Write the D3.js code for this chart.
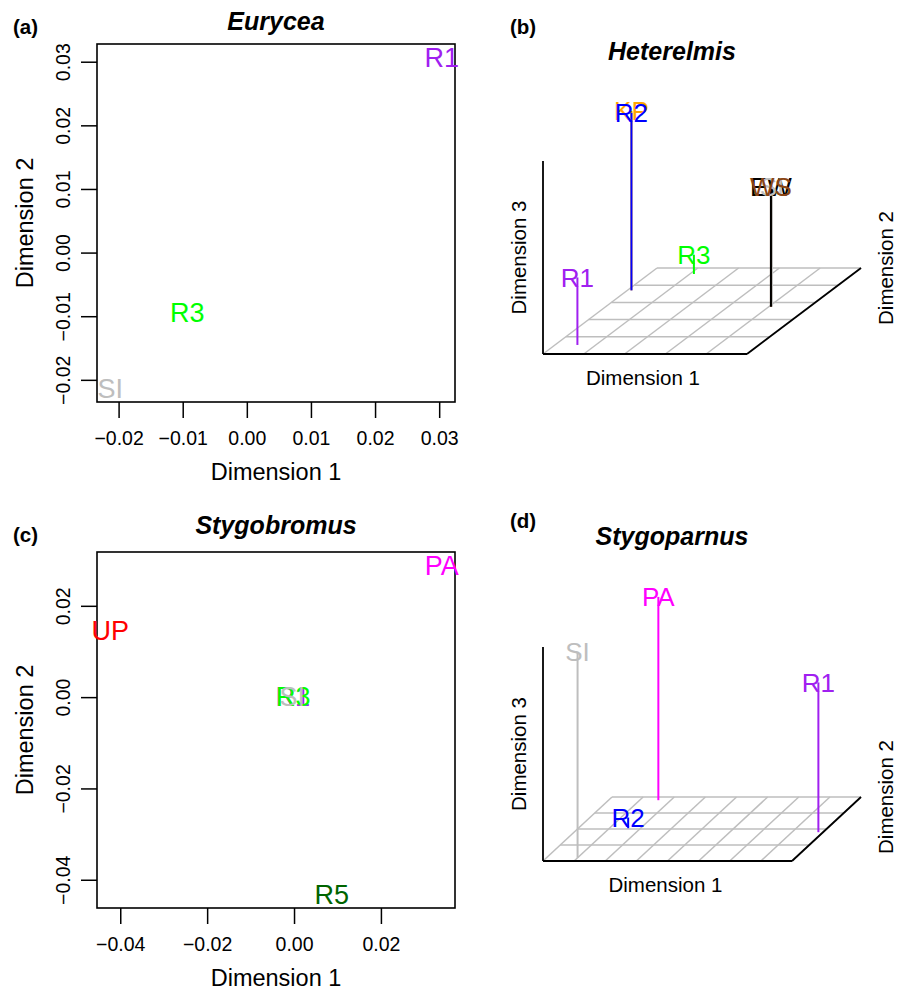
<!DOCTYPE html>
<html>
<head>
<meta charset="utf-8">
<script src="https://cdnjs.cloudflare.com/ajax/libs/d3/7.8.5/d3.min.js"></script>
<style>
  body { margin: 0; background: #fff; }
  text { font-family: "Liberation Sans", Arial, Helvetica, sans-serif; }
</style>
</head>
<body>
<div id="chart"></div>
<script>
// ---- data ----
// (a) Eurycea, 2D
var euryceaSites = ["SI", "R3", "R1"];
var euryceaDim1 = [-0.0213, -0.0093, 0.0304];
var euryceaDim2 = [-0.0214, -0.0095, 0.0307];
var euryceaTicksX = [-0.02, -0.01, 0.00, 0.01, 0.02, 0.03];
var euryceaTicksY = [-0.02, -0.01, 0.00, 0.01, 0.02, 0.03];

// (b) Heterelmis, 3D
var heterelmisSites = ["R1", "KP", "R2", "R3", "EW", "SI", "WS"];
var heterelmisDim1 = [-0.029, -0.038, -0.038, -0.018, 0.041, 0.0415, 0.041];
var heterelmisDim2 = [-0.0295, 0.034, 0.034, 0.053, 0.015, 0.015, 0.015];
var heterelmisDim3 = [-0.005, 0.053, 0.052, -0.030, 0.022, 0.022, 0.022];
var heterelmisTicksX = [-0.04, -0.02, 0.00, 0.02, 0.04, 0.06];
var heterelmisTicksY = [-0.04, -0.02, 0.00, 0.02, 0.04, 0.06];
var heterelmisRangeZ = [-0.04, 0.06];

// (c) Stygobromus, 2D
var stygobromusSites = ["UP", "PA", "R1", "R3", "SI", "R5"];
var stygobromusDim1 = [-0.0423, 0.0340, -0.0003, -0.0002, -0.0004, 0.0087];
var stygobromusDim2 = [0.0145, 0.0289, 0.0001, 0.0001, 0.0001, -0.0433];
var stygobromusTicksX = [-0.04, -0.02, 0.00, 0.02];
var stygobromusTicksY = [-0.04, -0.02, 0.00, 0.02];

// (d) Stygoparnus, 3D
var stygoparnusSites = ["SI", "PA", "R1", "R2"];
var stygoparnusDim1 = [-0.020, -0.008, 0.117, -0.008];
var stygoparnusDim2 = [-0.016, 0.056, 0.016, 0.021];
var stygoparnusDim3 = [0.037, 0.036, 0.016, -0.036];
var stygoparnusTicksX = [-0.04, -0.02, 0.00, 0.02, 0.04, 0.06, 0.08, 0.10, 0.12];
var stygoparnusTicksY = [-0.02, 0.00, 0.02, 0.04, 0.06];
var stygoparnusRangeZ = [-0.04, 0.04];

var siteColor = {
  R1: "#a020f0", R2: "#0000ff", R3: "#00ff00", R5: "#006400",
  PA: "#ff00ff", UP: "#ff0000", SI: "#bebebe", WS: "#8b4513",
  KP: "#ffa500", EW: "#000000"
};

var W = 904, H = 992;
var svg = d3.select("#chart").append("svg").attr("width", W).attr("height", H);

function fmt(v) {
  var s = d3.format(".2f")(v);
  return s.replace("-", "\u2212");
}

// R-style 4% padded range
function padded(vals) {
  var e = d3.extent(vals), p = (e[1] - e[0]) * 0.04;
  return [e[0] - p, e[1] + p];
}

function headers(g, tag, tagX, tagY, title, titleX, titleY) {
  g.append("text").attr("x", tagX).attr("y", tagY)
    .attr("font-size", 20.5).attr("font-weight", "bold").text(tag);
  g.append("text").attr("x", titleX).attr("y", titleY)
    .attr("text-anchor", "middle").attr("font-size", 25)
    .attr("font-weight", "bold").attr("font-style", "italic").text(title);
}

function plot2d(o) {
  var g = svg.append("g");
  var x = d3.scaleLinear().domain(padded(o.dim1)).range([o.left, o.right]);
  var y = d3.scaleLinear().domain(padded(o.dim2)).range([o.bottom, o.top]);

  var xAxis = d3.axisBottom(x).tickValues(o.ticksX).tickSize(16).tickPadding(6).tickFormat(fmt);
  var gx = g.append("g").attr("transform", "translate(0," + o.bottom + ")").call(xAxis);
  gx.select(".domain").remove();
  gx.selectAll(".tick line").attr("stroke", "#000").attr("stroke-width", 1.5);
  gx.selectAll(".tick text").attr("font-size", 19.5).attr("font-family", null)
    .attr("y", 36).attr("dy", "0.35em");

  var yAxis = d3.axisLeft(y).tickValues(o.ticksY).tickSize(16).tickFormat(fmt);
  var gy = g.append("g").attr("transform", "translate(" + o.left + ",0)").call(yAxis);
  gy.select(".domain").remove();
  gy.selectAll(".tick line").attr("stroke", "#000").attr("stroke-width", 1.5);
  gy.selectAll(".tick text").attr("font-size", 19.5).attr("font-family", null)
    .attr("x", null).attr("dy", null)
    .attr("text-anchor", "middle")
    .attr("transform", "translate(-34,0) rotate(-90)")
    .attr("dy", "0.35em");

  g.append("rect").attr("x", o.left).attr("y", o.top)
    .attr("width", o.right - o.left).attr("height", o.bottom - o.top)
    .attr("fill", "none").attr("stroke", "#000").attr("stroke-width", 1.6);

  g.append("text").attr("x", (o.left + o.right) / 2).attr("y", o.bottom + 70)
    .attr("dy", "0.35em").attr("text-anchor", "middle").attr("font-size", 23.5)
    .text("Dimension 1");
  g.append("text")
    .attr("transform", "translate(" + (o.left - 72) + "," + ((o.top + o.bottom) / 2) + ") rotate(-90)")
    .attr("dy", "0.35em").attr("text-anchor", "middle").attr("font-size", 23.5)
    .text("Dimension 2");

  g.append("g")
    .selectAll("text").data(o.sites).enter().append("text")
    .attr("x", function(d, i) { return x(o.dim1[i]); })
    .attr("y", function(d, i) { return y(o.dim2[i]); })
    .attr("dy", "0.35em").attr("text-anchor", "middle").attr("font-size", 27)
    .attr("fill", function(d) { return siteColor[d]; })
    .text(function(d) { return d; });

  headers(g, o.tag, 13, o.top - 10, o.title, (o.left + o.right) / 2, o.titleY);
}

function plot3d(o) {
  var g = svg.append("g");
  var tx = o.ticksX, ty = o.ticksY;
  var x = d3.scaleLinear().domain([tx[0], tx[tx.length - 1]]).range([0, o.width]);
  var depth = d3.scaleLinear().domain([ty[0], ty[ty.length - 1]]).range([0, 1]);
  var z = d3.scaleLinear().domain(o.rangeZ).range([0, o.zHeight]);
  var z0 = o.rangeZ[0];
  function proj(a, b, c) {
    var t = depth(b);
    return [o.ox + x(a) + t * o.dx, o.oy - t * o.dy - z(c)];
  }
  function seg(p, q, col, w) {
    return g.append("line").attr("x1", p[0]).attr("y1", p[1]).attr("x2", q[0]).attr("y2", q[1])
      .attr("stroke", col).attr("stroke-width", w);
  }
  var x0 = tx[0], x1 = tx[tx.length - 1], y0 = ty[0], y1 = ty[ty.length - 1];
  tx.forEach(function(t) { seg(proj(t, y0, z0), proj(t, y1, z0), "#bebebe", 1.5); });
  ty.forEach(function(t) { seg(proj(x0, t, z0), proj(x1, t, z0), "#bebebe", 1.5); });
  seg(proj(x0, y0, z0), proj(x0, y0, o.rangeZ[1]), "#000", 1.8);
  seg(proj(x0, y0, z0), proj(x1, y0, z0), "#000", 1.8);
  seg(proj(x1, y0, z0), proj(x1, y1, z0), "#000", 1.8);

  // drop lines first, then the labels on top
  var stems = g.append("g"), labels = g.append("g");
  o.sites.forEach(function(s, i) {
    var foot = proj(o.dim1[i], o.dim2[i], z0);
    var top = proj(o.dim1[i], o.dim2[i], o.dim3[i]);
    stems.append("line").attr("x1", foot[0]).attr("y1", foot[1])
      .attr("x2", top[0]).attr("y2", top[1])
      .attr("stroke", siteColor[s]).attr("stroke-width", 2);
    labels.append("text").attr("x", top[0]).attr("y", top[1]).attr("dy", "0.35em")
      .attr("text-anchor", "middle").attr("font-size", 26)
      .attr("fill", siteColor[s]).text(s);
  });
  stems.selectAll("line").filter(function() {
    return this.getAttribute("stroke") === "#000000";
  }).raise();

  var bottom = o.oy;
  g.append("text").attr("x", o.ox + o.width / 2 - 2).attr("y", bottom + 24)
    .attr("dy", "0.35em").attr("text-anchor", "middle").attr("font-size", 20.5).text("Dimension 1");
  g.append("text")
    .attr("transform", "translate(" + (o.ox - 24) + "," + (bottom - o.zHeight / 2) + ") rotate(-90)")
    .attr("dy", "0.35em").attr("text-anchor", "middle").attr("font-size", 20.5).text("Dimension 3");
  g.append("text")
    .attr("transform", "translate(886," + (bottom - o.dy) + ") rotate(-90)")
    .attr("dy", "0.35em").attr("text-anchor", "middle").attr("font-size", 20.5).text("Dimension 2");

  headers(g, o.tag, 510, o.tagY, o.title, 672, o.titleY);
}

plot2d({
  tag: "(a)", title: "Eurycea", titleY: 30,
  left: 97, right: 455, top: 44, bottom: 402,
  sites: euryceaSites, dim1: euryceaDim1, dim2: euryceaDim2,
  ticksX: euryceaTicksX, ticksY: euryceaTicksY
});

plot2d({
  tag: "(c)", title: "Stygobromus", titleY: 534,
  left: 97, right: 455, top: 552, bottom: 908,
  sites: stygobromusSites, dim1: stygobromusDim1, dim2: stygobromusDim2,
  ticksX: stygobromusTicksX, ticksY: stygobromusTicksY
});

plot3d({
  tag: "(b)", tagY: 34, title: "Heterelmis", titleY: 60,
  ox: 543, oy: 354, width: 204, dx: 114, dy: 86, zHeight: 193,
  sites: heterelmisSites, dim1: heterelmisDim1, dim2: heterelmisDim2, dim3: heterelmisDim3,
  ticksX: heterelmisTicksX, ticksY: heterelmisTicksY, rangeZ: heterelmisRangeZ
});

plot3d({
  tag: "(d)", tagY: 528, title: "Stygoparnus", titleY: 545,
  ox: 543, oy: 861, width: 249, dx: 69, dy: 64, zHeight: 214,
  sites: stygoparnusSites, dim1: stygoparnusDim1, dim2: stygoparnusDim2, dim3: stygoparnusDim3,
  ticksX: stygoparnusTicksX, ticksY: stygoparnusTicksY, rangeZ: stygoparnusRangeZ
});
</script>
</body>
</html>
